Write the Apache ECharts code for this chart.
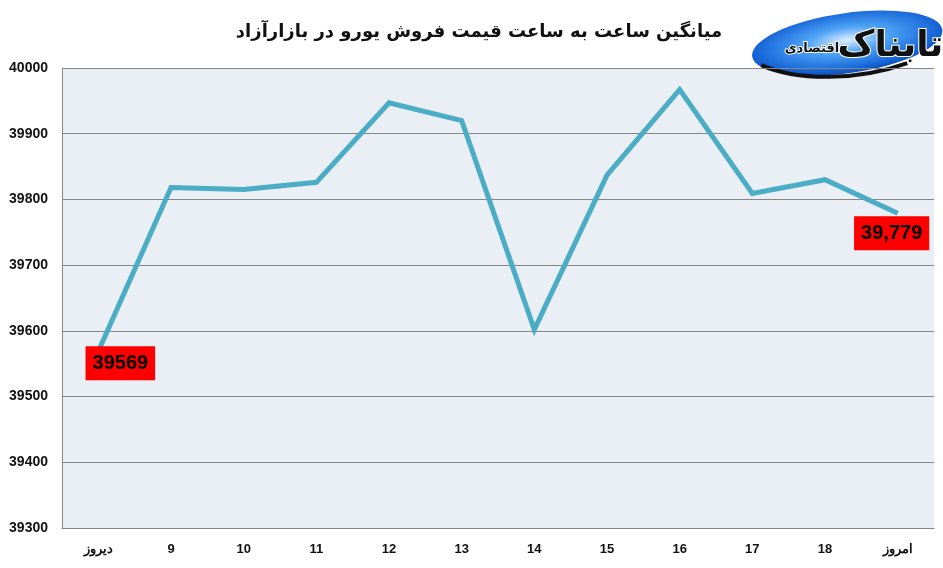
<!DOCTYPE html>
<html>
<head>
<meta charset="utf-8">
<script src="https://cdn.jsdelivr.net/npm/echarts@6/dist/echarts.min.js"></script>
<style>
html,body{margin:0;padding:0;background:#fff;}
#chart{width:943px;height:568px;}
</style>
</head>
<body>
<div id="chart"></div>
<script>
var titleText = 'میانگین ساعت به ساعت قیمت فروش یورو در بازارآزاد';
var categories = ['دیروز', '9', '10', '11', '12', '13', '14', '15', '16', '17', '18', 'امروز'];
var prices = [39569, 39818, 39815, 39826, 39947, 39920, 39602, 39837, 39967, 39809, 39830, 39779];
var labelTexts = ['39569', '', '', '', '', '', '', '', '', '', '', '39,779'];
var yMin = 39300, yMax = 40000, yStep = 100;

var labelOffsets = { 0: [22, 12], 11: [-6, 20] };

var seriesData = prices.map(function (v, i) {
  var item = { value: v };
  if (labelTexts[i]) {
    item.label = {
      show: true,
      position: 'inside',
      offset: labelOffsets[i],
      formatter: labelTexts[i],
      backgroundColor: '#FF0000',
      color: '#000',
      fontFamily: 'Liberation Sans',
      fontWeight: 'bold',
      fontSize: 20,
      lineHeight: 22,
      padding: [6, 7, 6, 7]
    };
  }
  return item;
});

var chart = echarts.init(document.getElementById('chart'));
chart.setOption({
  backgroundColor: '#ffffff',
  animation: false,
  title: {
    text: titleText,
    left: 474,
    textAlign: 'center',
    top: 18,
    textStyle: { fontFamily: 'DejaVu Sans', fontWeight: 'bold', fontSize: 18, color: '#111' }
  },
  grid: {
    left: 62, right: 9, top: 68, bottom: 40,
    show: true, backgroundColor: '#E9EFF4', borderWidth: 0
  },
  xAxis: {
    type: 'category',
    data: categories,
    boundaryGap: true,
    axisLine: { lineStyle: { color: '#868686', width: 1 } },
    axisTick: { show: false },
    axisLabel: {
      color: '#111', fontFamily: 'Liberation Sans', fontWeight: 'bold', fontSize: 13, margin: 15
    },
    splitLine: { show: false }
  },
  yAxis: {
    type: 'value',
    min: yMin, max: yMax, interval: yStep,
    axisLine: { show: true, lineStyle: { color: '#868686', width: 1 } },
    axisTick: { show: false },
    axisLabel: {
      color: '#111', fontFamily: 'Liberation Sans', fontWeight: 'bold', fontSize: 14, margin: 14,
      formatter: function (v) { return String(v); }
    },
    splitLine: { show: true, lineStyle: { color: '#868686', width: 1 } }
  },
  series: [{
    type: 'line',
    data: seriesData,
    symbol: 'circle',
    symbolSize: 0,
    showSymbol: true,
    lineStyle: { color: '#4BACC6', width: 5, join: 'miter' },
    itemStyle: { color: '#4BACC6' },
    z: 3
  }],
  graphic: [{
    type: 'group',
    left: 748, top: 0,
    z: 10,
    children: [
      {
        type: 'circle',
        shape: { cx: 0, cy: 0, r: 30 },
        x: 100, y: 36, scaleX: 3.2, scaleY: 1, rotation: 0.14,
        style: {
          fill: {
            type: 'radial', x: 0.5, y: 0.45, r: 0.6,
            colorStops: [
              { offset: 0, color: '#DDEEFF' },
              { offset: 0.35, color: '#4FA3F5' },
              { offset: 0.8, color: '#1565D8' },
              { offset: 1, color: '#0A3C9E' }
            ]
          }
        }
      },
      {
        type: 'bezierCurve',
        shape: { x1: 14, y1: 58, x2: 160, y2: 56, cpx1: 50, cpy1: 74, cpx2: 110, cpy2: 74 },
        style: { stroke: '#111', lineWidth: 4, fill: null }
      },
      {
        type: 'text',
        x: 196, y: 40,
        style: {
          text: 'تابناک', fontFamily: 'DejaVu Sans', fontWeight: 'bold', fontSize: 36,
          fill: '#111', stroke: '#fff', lineWidth: 2,
          align: 'right', verticalAlign: 'middle'
        }
      },
      {
        type: 'text',
        x: 92, y: 42,
        style: {
          text: 'اقتصادی', fontFamily: 'DejaVu Sans', fontWeight: 'bold', fontSize: 13,
          fill: '#111', stroke: '#fff', lineWidth: 2,
          align: 'right', verticalAlign: 'middle'
        }
      }
    ]
  }]
});
</script>
</body>
</html>
